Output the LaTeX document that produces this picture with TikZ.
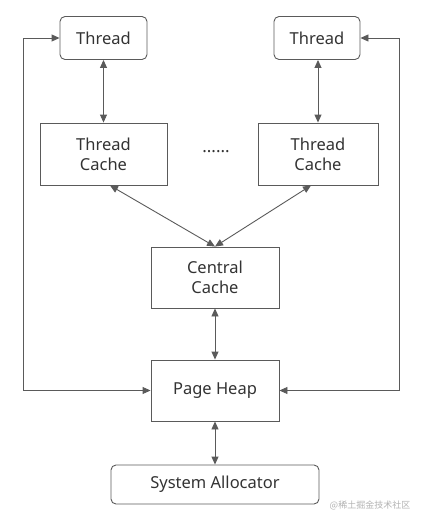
\documentclass[tikz,border=0pt]{standalone}
\usepackage{fontspec}
\setmainfont{Noto Sans}
\newfontfamily\cjk{Noto Sans CJK SC}
\usetikzlibrary{arrows.meta}
\definecolor{ln}{HTML}{5A5A5A}
\definecolor{tx}{HTML}{333333}
\tikzset{
  box/.style={draw=ln, line width=0.9pt, text=tx, align=center, font=\fontsize{16.5}{20}\selectfont, inner sep=0pt},
  rbox/.style={box, rounded corners=5pt},
  conn/.style={draw=ln, line width=0.9pt, {Triangle[length=8pt,width=7pt]}-{Triangle[length=8pt,width=7pt]}},
}
\begin{document}
\begin{tikzpicture}[x=1pt,y=-1pt]
\useasboundingbox (0,0) rectangle (423,523);
\node[rbox, minimum width=87pt, minimum height=43pt] (t1) at (103.5,38) {Thread};
\node[rbox, minimum width=86pt, minimum height=43pt] (t2) at (317,38) {Thread};
\node[box, minimum width=127pt, minimum height=62pt] (c1) at (103.5,154) {Thread\\Cache};
\node[box, minimum width=120pt, minimum height=62pt] (c2) at (318,154) {Thread\\Cache};
\node[text=tx, font=\fontsize{17}{20}\selectfont] (dots) at (216,152) {......};
\node[box, minimum width=128pt, minimum height=61pt] (cc) at (215,277.5) {Central\\Cache};
\node[box, minimum width=128pt, minimum height=61pt] (ph) at (215,390.5) {Page Heap};
\node[rbox, minimum width=208pt, minimum height=39pt] (sa) at (215,484.5) {System Allocator};
\node[text=black!30, font=\cjk\fontsize{9}{11}\selectfont] (wm) at (370,505) {@稀土掘金技术社区};
\draw[conn] (t1) -- (c1);
\draw[conn] (t2.south -| c2) -- (c2);
\draw[conn] (c1.south -| 110,0) -- (cc.north);
\draw[conn] (c2.south -| 311,0) -- (cc.north);
\draw[conn] (cc) -- (ph);
\draw[conn] (ph) -- (sa);
\draw[conn] (t1.west) -- (23,38) -- (23,390.5) -- (ph.west);
\draw[conn] (t2.east) -- (399,38) -- (399,390.5) -- (ph.east);
\end{tikzpicture}
\end{document}
